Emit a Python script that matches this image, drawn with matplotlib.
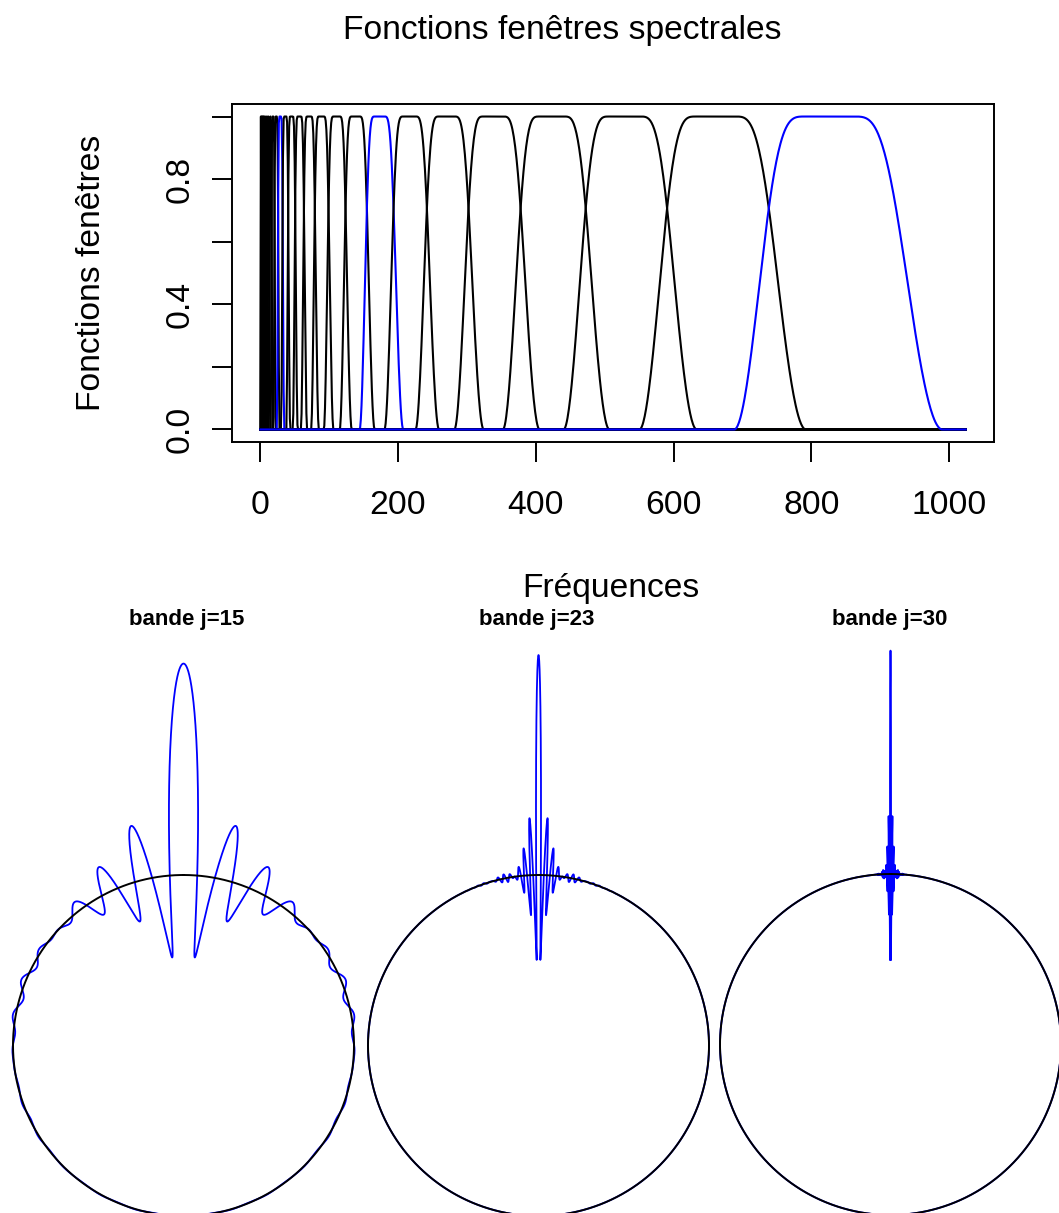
import numpy as np
import matplotlib
matplotlib.use("Agg")
import matplotlib.pyplot as plt

plt.rcParams['font.family'] = ['Liberation Sans', 'DejaVu Sans']

W, H, DPI = 1059, 1213, 100

# ---------------- data ----------------
ell_max = 1024
# spectral band boundaries (crossing points of adjacent windows), bands j = 0..30
band_edges = [0.914, 1.142, 1.428, 1.785, 2.231, 2.789, 3.486, 4.358, 5.447,
              6.809, 8.511, 10.64, 13.30, 16.62, 20.78, 25.97, 32.47, 40.58,
              50.73, 63.41, 79.26, 99.08, 123.8, 154.8, 193.5, 241.9, 302.3,
              377.9, 472.4, 590.5, 738.1, 922.7]
transition_halfwidth = 0.0704          # half width of each transition in log(ell)
highlight_bands = [15, 23, 30]
peak_scale = [1.24, 1.29, 1.31]        # radial height of the main lobe in the polar plots
x_ticks = [0, 200, 400, 600, 800, 1000]
y_ticks = [0.0, 0.2, 0.4, 0.6, 0.8, 1.0]
y_ticklabels = ["0.0", "", "0.4", "", "0.8", ""]
title = "Fonctions fenêtres spectrales"
xlabel = "Fréquences"
ylabel = "Fonctions fenêtres"
panel_titles = ["bande j=15", "bande j=23", "bande j=30"]

# ---------------- windows ----------------
ell = np.arange(0, ell_max + 1)
logl = np.log(np.maximum(ell, 1e-9))


def smooth(t):
    t = np.clip(t, 0, 1)
    return t * t * (3 - 2 * t)


def window(j):
    lo, hi = np.log(band_edges[j]), np.log(band_edges[j + 1])
    w = transition_halfwidth
    rise = np.sin(np.pi / 2 * smooth((logl - (lo - w)) / (2 * w)))
    fall = np.cos(np.pi / 2 * smooth((logl - (hi - w)) / (2 * w)))
    return rise * fall


n_bands = len(band_edges) - 1
windows = [window(j) for j in range(n_bands)]

fig = plt.figure(figsize=(W / DPI, H / DPI), dpi=DPI)


def fx(px):
    return px / W


def fy(py):
    return 1 - py / H


# ---------------- top panel ----------------
L, R, T, B = 232, 994, 104, 442
ax = fig.add_axes([fx(L), fy(B), (R - L) / W, (B - T) / H])
for j in range(n_bands):
    ax.plot(ell, windows[j], color='blue' if j in highlight_bands else 'black',
            lw=1.5, solid_joinstyle='round')
ax.set_xlim(-0.04 * ell_max, 1.04 * ell_max)
ax.set_ylim(-0.04, 1.04)
ax.set_xticks(x_ticks)
ax.set_xticklabels([str(v) for v in x_ticks])
ax.set_yticks(y_ticks)
ax.set_yticklabels(y_ticklabels, rotation=90, va='center')
for s in ax.spines.values():
    s.set_linewidth(1.4)
ax.tick_params(axis='both', length=14.4, width=1.4, labelsize=24.2, direction='out')
ax.tick_params(axis='x', pad=20)
ax.tick_params(axis='y', pad=12)

fig.text(fx(562), fy(31), title, ha='center', va='center', fontsize=24.2)
fig.text(fx(611), fy(588), xlabel, ha='center', va='center', fontsize=24.2)
fig.text(fx(92), fy(273), ylabel, ha='center', va='center', rotation=90, fontsize=24.2)

# ---------------- spatial kernels ----------------
theta = np.concatenate([np.linspace(0, 0.15, 15000, endpoint=False),
                        np.linspace(0.15, np.pi, 15000)])
c = np.cos(theta)
coef = np.array([windows[j] for j in highlight_bands]) * (2 * ell + 1) / (4 * np.pi)
P_prev = np.ones_like(c)
P = c.copy()
psi = np.outer(coef[:, 0], P_prev) + np.outer(coef[:, 1], P)
for l in range(1, ell_max):
    P_next = ((2 * l + 1) * c * P - l * P_prev) / (l + 1)
    P_prev, P = P, P_next
    if np.any(coef[:, l + 1] != 0):
        psi += np.outer(coef[:, l + 1], P)

centers = [(183.5, 1045.5), (538.5, 1045.5), (890.5, 1044.5)]
scale = 170.5
tc = np.linspace(0, 2 * np.pi, 2000)
for k in range(3):
    cx, cy = centers[k]
    half_w = 176
    top_px = 640
    a = fig.add_axes([fx(cx - half_w), 0, 2 * half_w / W, (H - top_px) / H])
    a.set_xlim(-half_w / scale, half_w / scale)
    a.set_ylim(-(H - cy) / scale, (cy - top_px) / scale)
    a.axis('off')
    r = 1 + peak_scale[k] * psi[k] / psi[k, 0]
    th_full = np.concatenate([-theta[::-1], theta])
    r_full = np.concatenate([r[::-1], r])
    a.plot(r_full * np.sin(th_full), r_full * np.cos(th_full), color='blue', lw=1.3,
           clip_on=False)
    a.plot(np.sin(tc), np.cos(tc), color='black', lw=1.4, clip_on=False)

for k, t in enumerate(panel_titles):
    fig.text(fx([187, 537, 890][k]), fy(620), t, ha='center', va='center',
             fontsize=16, fontweight='bold')

fig.savefig("out.png", dpi=DPI)
